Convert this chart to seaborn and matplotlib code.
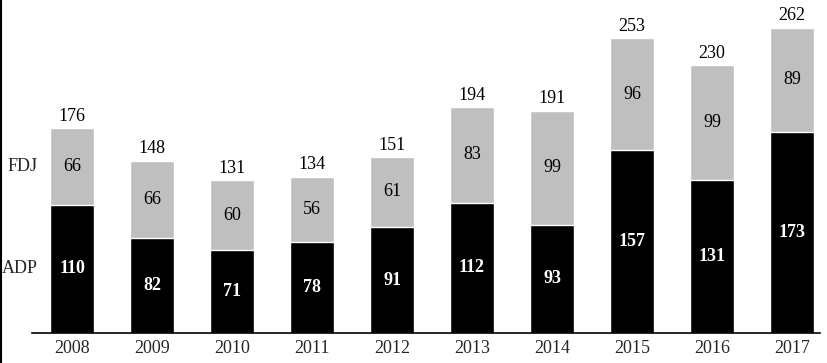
import matplotlib

matplotlib.use("Agg")
import matplotlib.pyplot as plt
import pandas as pd
import seaborn as sns

years = ["2008", "2009", "2010", "2011", "2012", "2013", "2014", "2015", "2016", "2017"]
adp = [110, 82, 71, 78, 91, 112, 93, 157, 131, 173]
fdj = [66, 66, 60, 56, 61, 83, 99, 96, 99, 89]
totals = [176, 148, 131, 134, 151, 194, 191, 253, 230, 262]

GREY = "#BFBFBF"

sns.set_theme(style="white")
plt.rcParams["font.family"] = ["Liberation Serif", "DejaVu Serif"]

df = pd.DataFrame({"year": years, "ADP": adp, "FDJ": fdj, "total": totals})

fig = plt.figure(figsize=(8.27, 3.63), dpi=100)
ax = fig.add_axes([32 / 827, 30 / 363, 788 / 827, 333 / 363])

sns.barplot(data=df, x="year", y="total", color=GREY, width=0.55,
            saturation=1, ax=ax)
sns.barplot(data=df, x="year", y="ADP", color="black", width=0.55,
            saturation=1, ax=ax)

for i, (a, f, t) in enumerate(zip(adp, fdj, totals)):
    ax.text(i, a / 2, str(a), ha="center", va="center", color="white",
            fontsize=13, fontweight="bold")
    ax.text(i, a + f / 2, str(f), ha="center", va="center", color="black",
            fontsize=13)
    ax.text(i, t + 3, str(t), ha="center", va="bottom", color="black",
            fontsize=13)

# series names to the left of the first bar
ax.text(-0.43, adp[0] + fdj[0] / 2, "FDJ", ha="right", va="center", fontsize=13)
ax.text(-0.43, adp[0] / 2, "ADP", ha="right", va="center", fontsize=13)

ax.set_xlim(-0.5, 9.35)
ax.set_ylim(0, 286)
ax.set_xlabel("")
ax.set_ylabel("")
ax.set_yticks([])
ax.tick_params(axis="x", length=0, labelsize=13, pad=5)
for side in ["top", "right", "left"]:
    ax.spines[side].set_visible(False)
ax.spines["bottom"].set_color("black")
ax.spines["bottom"].set_linewidth(1.2)

# thin frame line on the left edge of the picture
fig.add_artist(plt.Line2D([0.001, 0.001], [0, 1], color="black", lw=1.5,
                          transform=fig.transFigure))

fig.savefig("out.png", dpi=100)
